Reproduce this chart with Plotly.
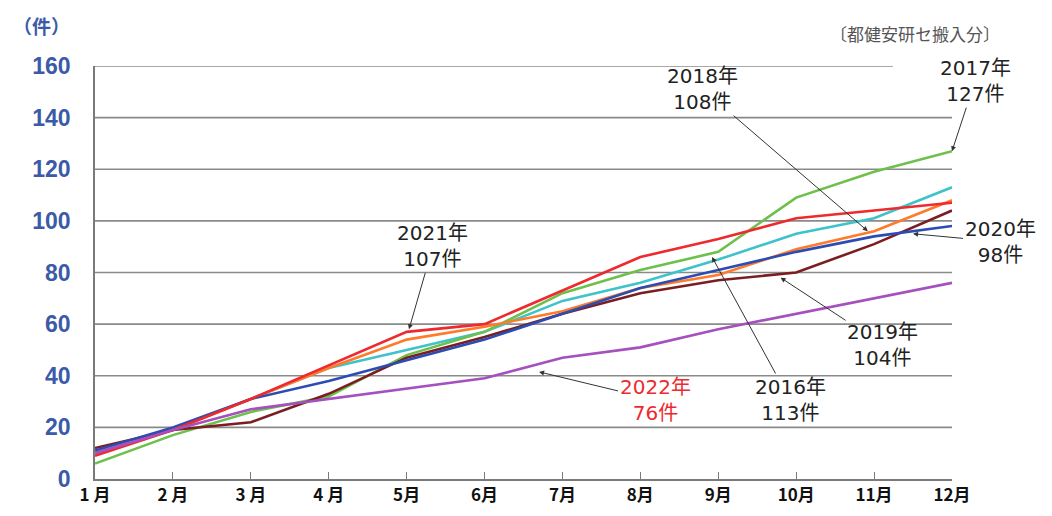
import plotly.graph_objects as go

months = [1, 2, 3, 4, 5, 6, 7, 8, 9, 10, 11, 12]
month_labels = ["1 月", "2 月", "3 月", "4 月", "5月", "6月", "7月", "8月", "9月", "10月", "11月", "12月"]
y_ticks = [0, 20, 40, 60, 80, 100, 120, 140, 160]

s2016 = [10, 19, 31, 43, 50, 57, 69, 76, 85, 95, 101, 113]
s2017 = [6, 17, 26, 32, 48, 57, 72, 81, 88, 109, 119, 127]
s2018 = [10, 19, 31, 43, 54, 59, 65, 74, 79, 89, 96, 108]
s2019 = [12, 19, 22, 33, 47, 55, 64, 72, 77, 80, 91, 104]
s2020 = [11, 20, 31, 38, 46, 54, 64, 74, 81, 88, 94, 98]
s2021 = [9, 19, 31, 44, 57, 60, 73, 86, 93, 101, 104, 107]
s2022 = [10, 19, 27, 31, 35, 39, 47, 51, 58, 64, 70, 76]

series = [
    ("2016年", s2016, "#3EC3CB"),
    ("2017年", s2017, "#6DC04B"),
    ("2018年", s2018, "#FF7A2A"),
    ("2019年", s2019, "#7A1E22"),
    ("2020年", s2020, "#2B4DB3"),
    ("2021年", s2021, "#EE2A2E"),
    ("2022年", s2022, "#A550BE"),
]

# annotation labels: text, head point (x, y), tail offset in pixels, colour
labels = [
    ("2017年<br>127件", 12, 127, 23, -70, "#222222"),
    ("2018年<br>108件", 10.92, 96, -165, -142, "#222222"),
    ("2020年<br>98件", 11.5, 95, 87, 8, "#222222"),
    ("2019年<br>104件", 9.8, 78, 102, 67, "#222222"),
    ("2016年<br>113件", 8.92, 86, 78, 143, "#222222"),
    ("2021年<br>107件", 5.03, 58, 24, -83, "#222222"),
    ("2022年<br>76件", 6.7, 41.5, 116, 28, "#EE2A2E"),
]

fig = go.Figure()
for name, vals, col in series:
    fig.add_trace(go.Scatter(x=months, y=vals, mode="lines", name=name,
                             line=dict(color=col, width=2.6), showlegend=False))

# horizontal gridlines (top one shorter, as in the original)
for v in y_ticks[1:]:
    fig.add_shape(type="line", xref="paper", yref="y", x0=0, x1=0.931 if v == 160 else 1,
                  y0=v, y1=v, line=dict(color="#8A8A8A", width=1.6), layer="below")

for text, hx, hy, ax, ay, col in labels:
    fig.add_annotation(x=hx, y=hy, xref="x", yref="y", ax=ax, ay=ay,
                       axref="pixel", ayref="pixel", text=text, showarrow=True,
                       arrowhead=2, arrowsize=1, arrowwidth=1, arrowcolor="#333333",
                       font=dict(family="DejaVu Sans, Noto Sans CJK JP", size=20, color=col),
                       align="center")

fig.add_annotation(x=1.058, y=1.0, xref="paper", yref="paper", yshift=33, text="〔都健安研セ搬入分〕",
                   showarrow=False, xanchor="right", yanchor="middle",
                   font=dict(family="Noto Sans CJK JP", size=17, color="#555555"))
fig.add_annotation(x=-0.063, y=1.0, xref="paper", yref="paper", yshift=41, text="<b>（件）</b>",
                   showarrow=False, xanchor="center", yanchor="middle",
                   font=dict(family="Noto Sans CJK JP", size=19, color="#3B5AA8"))

fig.update_layout(
    width=1044, height=508,
    margin=dict(l=87, r=100, t=58, b=37, autoexpand=False),
    paper_bgcolor="white", plot_bgcolor="white",
    xaxis=dict(range=[1, 12], tickvals=months, ticktext=month_labels, automargin=False,
               showgrid=False, zeroline=False, showline=True, linecolor="#7A7A7A",
               linewidth=1.6, ticks="inside", ticklen=7, tickcolor="#7A7A7A", tickwidth=1.4,
               tickfont=dict(family="Noto Sans CJK JP", size=17, color="#111111", weight="bold")),
    yaxis=dict(range=[0, 160], tickvals=y_ticks, showgrid=False, zeroline=False, automargin=False,
               showline=True, linecolor="#7A7A7A", linewidth=1.6, ticks="",
               ticklabelstandoff=18,
               tickfont=dict(family="Arial", size=23, color="#3B5AA8", weight="bold")),
)

fig.write_html("out.html")
